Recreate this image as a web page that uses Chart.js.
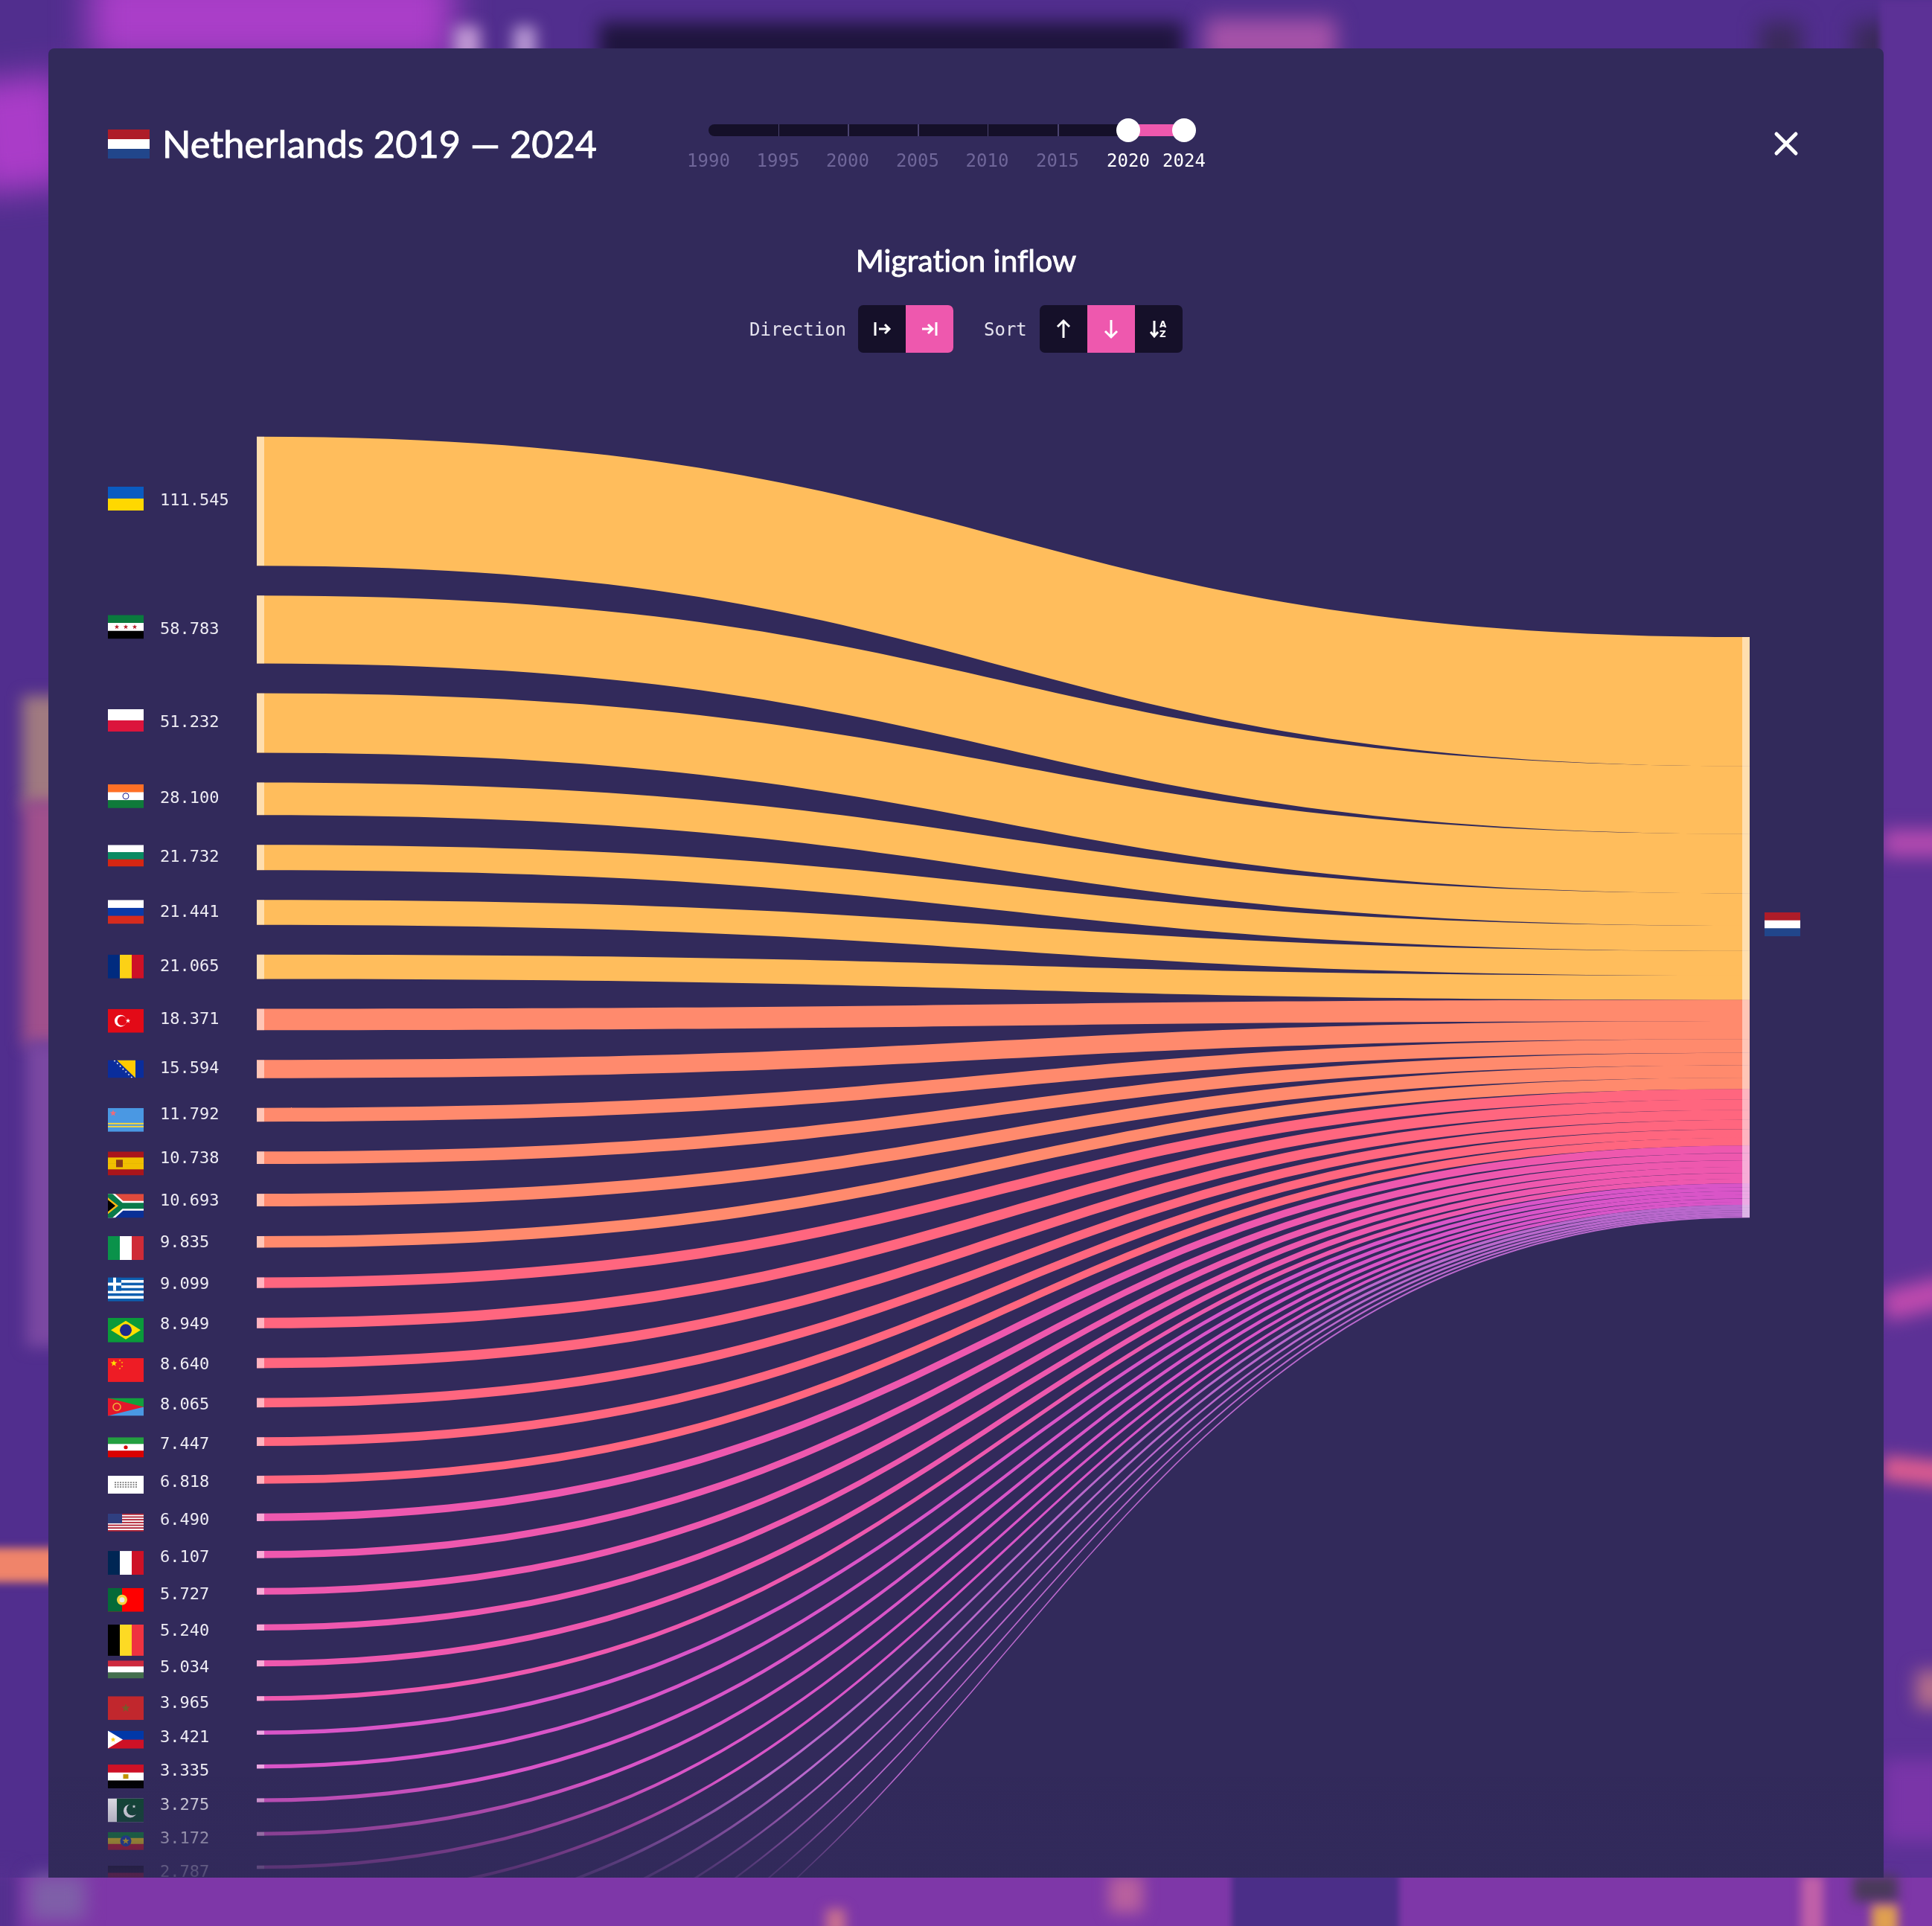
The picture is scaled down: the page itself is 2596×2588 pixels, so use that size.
<!DOCTYPE html>
<html>
<head>
<meta charset="utf-8">
<title>Netherlands 2019 — 2024</title>
<script src="https://cdn.jsdelivr.net/npm/chart.js@4"></script>
<style>
    html, body { margin: 0; padding: 0; width: 2596px; height: 2588px; overflow: hidden; background: #512e8e; }
    .blob { position: absolute; filter: blur(16px); }
    #card { position: absolute; left: 65px; top: 65px; width: 2466px; height: 2458px; background: #322a5b; border-radius: 8px 8px 0 0; }
    #chart { position: absolute; left: 0; top: 0; }
    .abs { position: absolute; white-space: nowrap; color: #fff; }
    .head { font-family: Lato, sans-serif; -webkit-text-stroke: 0.9px #fff; font-variant-ligatures: none; }
    .mono { font-family: "DejaVu Sans Mono", monospace; font-size: 24px; line-height: 28px; }
    .year { transform: translateX(-50%); color: #6f6699; }
    .year.on { color: #fff; }
    .group { position: absolute; top: 410px; height: 64px; display: flex; background: #151029; border-radius: 7px; overflow: hidden; }
    .group div { width: 64px; height: 64px; display: flex; align-items: center; justify-content: center; }
    .group .on { background: #ee58ae; }
    svg { display: block; }
</style>
</head>
<body>
<!-- blurred page behind the dialog -->
<div class="blob" style="left:120px;top:-40px;width:490px;height:125px;background:#aa3ec8;filter:blur(24px)"></div>
<div class="blob" style="left:-40px;top:105px;width:130px;height:150px;background:#aa3cc8;filter:blur(22px);transform:rotate(-6deg)"></div>
<div class="blob" style="left:610px;top:35px;width:35px;height:50px;background:#c098d4;filter:blur(10px)"></div>
<div class="blob" style="left:690px;top:35px;width:30px;height:50px;background:#b898d4;filter:blur(10px)"></div>
<div class="blob" style="left:805px;top:30px;width:785px;height:60px;background:#1f153e;filter:blur(12px)"></div>
<div class="blob" style="left:1620px;top:25px;width:175px;height:60px;background:#a552a8;filter:blur(14px)"></div>
<div class="blob" style="left:2365px;top:30px;width:55px;height:70px;background:#3a2a5a;filter:blur(14px)"></div>
<div class="blob" style="left:2490px;top:30px;width:70px;height:70px;background:#3a2a5a;filter:blur(14px)"></div>
<div class="blob" style="left:30px;top:935px;width:60px;height:150px;background:#a07a80;filter:blur(10px)"></div>
<div class="blob" style="left:30px;top:1075px;width:60px;height:330px;background:#a0508c;filter:blur(10px)"></div>
<div class="blob" style="left:35px;top:1400px;width:60px;height:410px;background:#7a48a2;filter:blur(10px)"></div>
<div class="blob" style="left:-20px;top:2080px;width:110px;height:46px;background:#f0846a;filter:blur(6px)"></div>
<div class="blob" style="left:2526px;top:0;width:80px;height:2600px;background:#5c3196;filter:blur(4px)"></div>
<div class="blob" style="left:2530px;top:1115px;width:90px;height:36px;background:#b44ab0;filter:blur(12px)"></div>
<div class="blob" style="left:2530px;top:1725px;width:90px;height:40px;background:#bf4aae;filter:blur(12px);transform:rotate(-14deg)"></div>
<div class="blob" style="left:2530px;top:1960px;width:90px;height:34px;background:#d85a90;filter:blur(10px);transform:rotate(6deg)"></div>
<div class="blob" style="left:2575px;top:2245px;width:40px;height:50px;background:#b8708a;filter:blur(12px)"></div>
<div class="blob" style="left:2530px;top:2365px;width:90px;height:110px;background:#7a35a8;filter:blur(12px)"></div>
<div class="blob" style="left:-40px;top:2523px;width:2680px;height:90px;background:#7e37a8;filter:none"></div>
<div class="blob" style="left:-20px;top:2510px;width:45px;height:100px;background:#54308f;filter:blur(10px)"></div>
<div class="blob" style="left:40px;top:2520px;width:75px;height:60px;background:#7f5fa8;filter:blur(12px)"></div>
<div class="blob" style="left:1655px;top:2515px;width:225px;height:90px;background:#4b2e88;filter:blur(4px)"></div>
<div class="blob" style="left:1110px;top:2565px;width:26px;height:40px;background:#c8708f;filter:blur(8px)"></div>
<div class="blob" style="left:1490px;top:2520px;width:46px;height:50px;background:#b8609e;filter:blur(10px)"></div>
<div class="blob" style="left:2420px;top:2520px;width:30px;height:80px;background:#c060a8;filter:blur(7px)"></div>
<div class="blob" style="left:2490px;top:2520px;width:60px;height:35px;background:#4a3a5a;filter:blur(8px)"></div>
<div class="blob" style="left:2515px;top:2560px;width:35px;height:40px;background:#e0a050;filter:blur(7px)"></div>

<div id="card"></div>
<canvas id="chart" width="2596" height="2588"></canvas>

<div class="abs head" style="left:218px;top:163px;font-size:50.5px;line-height:60px">Netherlands 2019 — 2024</div>
<div class="abs head" style="left:0;width:2596px;top:326px;text-align:center;font-size:41px;line-height:48px">Migration inflow</div>

<div class="abs" style="left:952px;top:167px;width:564px;height:16px;background:#151029;border-radius:8px 0 0 8px"></div>
<div class="abs" style="left:1516px;top:167px;width:75px;height:16px;background:#ee58ae"></div>
<div class="abs" style="left:1500px;top:159px;width:32px;height:32px;border-radius:50%;background:#fff"></div>
<div class="abs" style="left:1575px;top:159px;width:32px;height:32px;border-radius:50%;background:#fff"></div>
<div id="years"></div>

<div class="abs mono" style="left:1007px;top:429px;color:#e6e4ef">Direction</div>
<div class="group" style="left:1153px">
    <div><svg width="26" height="26" viewBox="0 0 26 26" fill="none" stroke="#fff" stroke-width="3"><path d="M4 4V22M9 13H23M17 7L23 13L17 19"/></svg></div>
    <div class="on"><svg width="26" height="26" viewBox="0 0 26 26" fill="none" stroke="#fff" stroke-width="3"><path d="M22 4V22M3 13H17M11 7L17 13L11 19"/></svg></div>
</div>
<div class="abs mono" style="left:1322px;top:429px;color:#e6e4ef">Sort</div>
<div class="group" style="left:1397px">
    <div><svg width="26" height="28" viewBox="0 0 26 28" fill="none" stroke="#fff" stroke-width="3"><path d="M13 26V3M5 11L13 3L21 11"/></svg></div>
    <div class="on"><svg width="26" height="28" viewBox="0 0 26 28" fill="none" stroke="#fff" stroke-width="3"><path d="M13 2V25M5 17L13 25L21 17"/></svg></div>
    <div><svg width="28" height="28" viewBox="0 0 28 28"><path d="M8 3V24M3 18L8 24L13 18" fill="none" stroke="#fff" stroke-width="3"/><text x="15" y="12" font-family="DejaVu Sans" font-weight="700" font-size="12" fill="#fff">A</text><text x="15" y="25" font-family="DejaVu Sans" font-weight="700" font-size="12" fill="#fff">Z</text></svg></div>
</div>

<svg class="abs" style="left:2383px;top:176px" width="34" height="34" viewBox="0 0 34 34" fill="none" stroke="#fff" stroke-width="5" stroke-linecap="round"><path d="M4 4L30 30M30 4L4 30"/></svg>
<canvas class="abs" id="titleFlag" width="56" height="39" style="left:145px;top:174px"></canvas>

<script>
// origin countries, largest inflow first (the last seven rows are cut off by the card)
const flagCodes = ['ua', 'sy', 'pl', 'in', 'bg', 'ru', 'ro', 'tr', 'ba', 'aw', 'es', 'za', 'it', 'gr', 'br', 'cn', 'er', 'ir', 'af',
    'us', 'fr', 'pt', 'be', 'hu', 'ma', 'ph', 'eg', 'pk', 'et', 'de', '', '', '', '', '', '', ''];
// inflow in thousands, Netherlands 2019-2024
const inflowValues = [111.545, 58.783, 51.232, 28.100, 21.732, 21.441, 21.065, 18.371, 15.594, 11.792, 10.738, 10.693, 9.835,
    9.099, 8.949, 8.640, 8.065, 7.447, 6.818, 6.490, 6.107, 5.727, 5.240, 5.034, 3.965, 3.421, 3.335, 3.275, 3.172, 2.787,
    2.612, 2.405, 2.198, 1.987, 1.763, 1.524, 1.311];
const yearTicks = [1990, 1995, 2000, 2005, 2010, 2015, 2020, 2024];
const activeYears = [2020, 2024];

const groupSizes = [7, 6, 6, 6, 6, 6];
const groupColors = ['#ffbd5c', '#ff8a6d', '#ff667f', '#ee58ae', '#d955c8', '#b968cc'];

// layout of the diagram, in pixels
const PX_PER_UNIT = 1.553;
const ROW_GAP = 40.2 / PX_PER_UNIT;
const RIGHT_START = (856.2 - 586.8) / PX_PER_UNIT;
const PLOT = { left: 345, right: 2351, top: 586.8, bottom: 2523 };
const NODE_W = 10;
const LABEL_LEFT = 215;

// years under the slider
const yearX = [952, 1045.5, 1139, 1233, 1326.5, 1421, 1516, 1591];
const yearsEl = document.getElementById('years');
yearTicks.forEach((y, i) => {
    const el = document.createElement('div');
    el.className = 'abs mono year' + (activeYears.includes(y) ? ' on' : '');
    el.style.left = yearX[i] + 'px';
    el.style.top = '202px';
    el.textContent = y;
    yearsEl.appendChild(el);
    if (i > 0 && i < 6) {
        const sep = document.createElement('div');
        sep.className = 'abs';
        sep.style.cssText = `left:${yearX[i]}px;top:167px;width:1.5px;height:16px;background:#4b4370`;
        yearsEl.appendChild(sep);
    }
});

// stacked positions of every row on both sides
let leftCursor = 0, rightCursor = RIGHT_START;
const rows = inflowValues.map((v, i) => {
    const row = { value: v, code: flagCodes[i], leftTop: leftCursor, rightTop: rightCursor };
    leftCursor += v + ROW_GAP;
    rightCursor += v;
    return row;
});
const colorOf = i => {
    let end = 0;
    for (let g = 0; g < groupSizes.length; g++) {
        end += groupSizes[g];
        if (i < end) return groupColors[g];
    }
    return groupColors[groupColors.length - 1];
};

// flags
function stripes(ctx, colors, x, y, w, h, vertical) {
    colors.forEach((c, i) => {
        ctx.fillStyle = c;
        if (vertical) ctx.fillRect(x + w * i / colors.length, y, w / colors.length + .5, h);
        else ctx.fillRect(x, y + h * i / colors.length, w, h / colors.length + .5);
    });
}
function star(ctx, cx, cy, r, color) {
    ctx.fillStyle = color;
    ctx.beginPath();
    for (let i = 0; i < 10; i++) {
        const a = -Math.PI / 2 + i * Math.PI / 5, rr = i % 2 ? r * .42 : r;
        ctx.lineTo(cx + Math.cos(a) * rr, cy + Math.sin(a) * rr);
    }
    ctx.fill();
}
function poly(ctx, color, pts) {
    ctx.fillStyle = color;
    ctx.beginPath();
    pts.forEach(p => ctx.lineTo(p[0], p[1]));
    ctx.fill();
}
function disc(ctx, color, x, y, r) {
    ctx.fillStyle = color;
    ctx.beginPath();
    ctx.arc(x, y, r, 0, Math.PI * 2);
    ctx.fill();
}
const flagHeights = { ua: 32, sy: 32, pl: 30, in: 32, bg: 29, ru: 32, ro: 32, tr: 32, ba: 24, aw: 32, es: 32, za: 32, it: 32, gr: 32,
    br: 33, cn: 32, er: 24, ir: 27, af: 24, us: 24, fr: 32, pt: 32, be: 42, hu: 24, ma: 32, ph: 24, eg: 32, pk: 32, et: 24, de: 29, nl: 32 };
function drawFlag(ctx, code, x, y, w, h) {
    ctx.save();
    ctx.beginPath();
    ctx.rect(x, y, w, h);
    ctx.clip();
    const cx = x + w / 2, cy = y + h / 2;
    switch (code) {
        case 'ua': stripes(ctx, ['#0a5bc0', '#ffd800'], x, y, w, h); break;
        case 'sy':
            stripes(ctx, ['#0a7a3e', '#ffffff', '#000000'], x, y, w, h);
            [-12, 0, 12].forEach(d => star(ctx, cx + d, cy, 3.4, '#b5202c'));
            break;
        case 'pl': stripes(ctx, ['#ffffff', '#dc143c'], x, y, w, h); break;
        case 'in':
            stripes(ctx, ['#ff7026', '#ffffff', '#0f7a3a'], x, y, w, h);
            ctx.strokeStyle = '#1b1b8f'; ctx.lineWidth = 1;
            ctx.beginPath(); ctx.arc(cx, cy, 4, 0, Math.PI * 2); ctx.stroke();
            break;
        case 'bg': stripes(ctx, ['#ffffff', '#0a8a62', '#d62612'], x, y, w, h); break;
        case 'ru': stripes(ctx, ['#ffffff', '#0a3aa8', '#d52b1e'], x, y, w, h); break;
        case 'ro': stripes(ctx, ['#002b7f', '#fcd116', '#ce1126'], x, y, w, h, true); break;
        case 'tr':
            ctx.fillStyle = '#e30a17'; ctx.fillRect(x, y, w, h);
            disc(ctx, '#fff', x + 17, cy, 8);
            disc(ctx, '#e30a17', x + 19, cy, 6.4);
            star(ctx, x + 27, cy, 3.4, '#fff');
            break;
        case 'ba':
            ctx.fillStyle = '#0a2d9c'; ctx.fillRect(x, y, w, h);
            poly(ctx, '#fecb00', [[x + 12, y], [x + 37, y], [x + 37, y + h]]);
            for (let i = 0; i < 7; i++) star(ctx, x + 9 + i * 3.8, y + 1 + i * 3.7, 1.5, '#fff');
            break;
        case 'aw':
            ctx.fillStyle = '#4a98e3'; ctx.fillRect(x, y, w, h);
            ctx.fillStyle = '#f5d63d'; ctx.fillRect(x, y + 20, w, 2); ctx.fillRect(x, y + 24, w, 2);
            star(ctx, x + 7, y + 7, 4.5, '#ef6a78');
            break;
        case 'es':
            stripes(ctx, ['#aa151b', '#f1bf00', '#f1bf00', '#aa151b'], x, y, w, h);
            ctx.fillStyle = '#8a3a1a'; ctx.fillRect(x + 11, cy - 5, 9, 10);
            break;
        case 'za':
            stripes(ctx, ['#e04a3c', '#0a2f96'], x, y, w, h);
            ctx.strokeStyle = '#fff'; ctx.lineWidth = 13;
            ctx.beginPath(); ctx.moveTo(x - 2, y - 2); ctx.lineTo(x + 18, cy); ctx.lineTo(x + 48, cy); ctx.moveTo(x + 18, cy); ctx.lineTo(x - 2, y + h + 2); ctx.stroke();
            ctx.strokeStyle = '#0a7a4a'; ctx.lineWidth = 8;
            ctx.beginPath(); ctx.moveTo(x - 2, y - 2); ctx.lineTo(x + 18, cy); ctx.lineTo(x + 48, cy); ctx.moveTo(x + 18, cy); ctx.lineTo(x - 2, y + h + 2); ctx.stroke();
            poly(ctx, '#fdb913', [[x, y + 5], [x + 14, cy], [x, y + h - 5]]);
            poly(ctx, '#000', [[x, y + 8], [x + 10, cy], [x, y + h - 8]]);
            break;
        case 'it': stripes(ctx, ['#0a924a', '#ffffff', '#cf2b37'], x, y, w, h, true); break;
        case 'gr':
            stripes(ctx, ['#0d5eaf', '#fff', '#0d5eaf', '#fff', '#0d5eaf', '#fff', '#0d5eaf', '#fff', '#0d5eaf'], x, y, w, h);
            ctx.fillStyle = '#0d5eaf'; ctx.fillRect(x, y, 18, 18);
            ctx.fillStyle = '#fff'; ctx.fillRect(x + 7, y, 4, 18); ctx.fillRect(x, y + 7, 18, 4);
            break;
        case 'br':
            ctx.fillStyle = '#0a9a3a'; ctx.fillRect(x, y, w, h);
            poly(ctx, '#fedf00', [[x + 4, cy], [cx, y + 4], [x + 44, cy], [cx, y + h - 4]]);
            disc(ctx, '#1e2a8a', cx, cy, 8);
            break;
        case 'cn':
            ctx.fillStyle = '#ee1c25'; ctx.fillRect(x, y, w, h);
            star(ctx, x + 8, y + 7, 4.6, '#ffde00');
            [[16, 3], [19, 6], [19, 11], [16, 14]].forEach(p => star(ctx, x + p[0], y + p[1], 1.5, '#ffde00'));
            break;
        case 'er':
            ctx.fillStyle = '#12a03c'; ctx.fillRect(x, y, w, h / 2);
            ctx.fillStyle = '#4a98e3'; ctx.fillRect(x, cy, w, h / 2);
            poly(ctx, '#e4172b', [[x, y], [x + w, cy], [x, y + h]]);
            ctx.strokeStyle = '#f2b33d'; ctx.lineWidth = 1.5;
            ctx.beginPath(); ctx.arc(x + 12, cy, 5, 0, Math.PI * 2); ctx.stroke();
            break;
        case 'ir':
            stripes(ctx, ['#239f40', '#ffffff', '#da0000'], x, y, w, h);
            disc(ctx, '#da0000', cx, cy, 2.6);
            break;
        case 'af':
            ctx.fillStyle = '#fff'; ctx.fillRect(x, y, w, h);
            ctx.strokeStyle = '#222'; ctx.lineWidth = 1;
            ctx.setLineDash([2, 1.5]);
            [-3, 0, 3].forEach(d => {
                ctx.beginPath(); ctx.moveTo(x + 9, cy + d); ctx.lineTo(x + 39, cy + d); ctx.stroke();
            });
            ctx.setLineDash([]);
            break;
        case 'us':
            stripes(ctx, ['#b22234', '#fff', '#b22234', '#fff', '#b22234', '#fff', '#b22234', '#fff', '#b22234', '#fff', '#b22234', '#fff', '#b22234'], x, y, w, h);
            ctx.fillStyle = '#2f3f80'; ctx.fillRect(x, y, 19, 13);
            break;
        case 'fr': stripes(ctx, ['#002654', '#ffffff', '#ce1126'], x, y, w, h, true); break;
        case 'pt':
            ctx.fillStyle = '#ff0000'; ctx.fillRect(x, y, w, h);
            ctx.fillStyle = '#046a38'; ctx.fillRect(x, y, 19, h);
            disc(ctx, '#f5d63d', x + 19, cy, 7);
            disc(ctx, '#e8e8e8', x + 19, cy, 3.5);
            break;
        case 'be': stripes(ctx, ['#000000', '#fdda24', '#ef3340'], x, y, w, h, true); break;
        case 'hu': stripes(ctx, ['#cd2a3e', '#ffffff', '#436f4d'], x, y, w, h); break;
        case 'ma':
            ctx.fillStyle = '#c1272d'; ctx.fillRect(x, y, w, h);
            star(ctx, cx, cy, 6, '#7a5a2a');
            break;
        case 'ph':
            stripes(ctx, ['#0038a8', '#ce1126'], x, y, w, h);
            poly(ctx, '#fff', [[x, y], [x + 20, cy], [x, y + h]]);
            star(ctx, x + 7, cy, 3.6, '#fcd116');
            break;
        case 'eg':
            stripes(ctx, ['#ce1126', '#ffffff', '#000000'], x, y, w, h);
            ctx.fillStyle = '#c09300'; ctx.fillRect(cx - 3.5, cy - 3, 7, 6);
            break;
        case 'pk':
            ctx.fillStyle = '#fff'; ctx.fillRect(x, y, w, h);
            ctx.fillStyle = '#0c4a2e'; ctx.fillRect(x + 12, y, 36, h);
            disc(ctx, '#fff', x + 30, cy + 1, 9);
            disc(ctx, '#0c4a2e', x + 33, cy - 1, 8);
            star(ctx, x + 35, cy - 5, 2.6, '#fff');
            break;
        case 'et':
            stripes(ctx, ['#078930', '#fcdd09', '#da121a'], x, y, w, h);
            disc(ctx, '#0f47af', cx, cy, 7.5);
            star(ctx, cx, cy, 5, '#fcdd09');
            break;
        case 'de': stripes(ctx, ['#000000', '#dd0000', '#ffce00'], x, y, w, h); break;
        case 'nl': stripes(ctx, ['#ae1c28', '#ffffff', '#21468b'], x, y, w, h); break;
    }
    ctx.restore();
}
drawFlag(document.getElementById('titleFlag').getContext('2d'), 'nl', 0, 0, 56, 39);

// draws the flow bands and end nodes from the scales of the chart
const sankeyBands = {
    id: 'sankeyBands',
    beforeDatasetsDraw(chart) {
        const { ctx, chartArea: area, scales: { x, y } } = chart;
        const px = v => y.getPixelForValue(v) - y.getPixelForValue(0);
        ctx.save();
        ctx.beginPath();
        ctx.rect(0, area.top - 1, chart.width, area.bottom - area.top + 1);
        ctx.clip();
        chart.data.datasets.forEach((ds, i) => {
            const pts = chart.getDatasetMeta(i).data;
            const x0 = pts[0].x, x1 = pts[1].x, xm = (x0 + x1) / 2;
            // same height along the whole band, a touch extra so neighbours close up at the right
            const half = px(ds.bandValue) / 2 + 0.1;
            ctx.beginPath();
            ctx.moveTo(x0, pts[0].y - half);
            ctx.bezierCurveTo(xm, pts[0].y - half, xm, pts[1].y - half, x1, pts[1].y - half);
            ctx.lineTo(x1, pts[1].y + half);
            ctx.bezierCurveTo(xm, pts[1].y + half, xm, pts[0].y + half, x0, pts[0].y + half);
            ctx.closePath();
            ctx.fillStyle = ds.bandColor;
            ctx.fill();
        });
        // lighter end caps
        const capL = x.getPixelForValue(0), capR = x.getPixelForValue(1);
        ctx.fillStyle = 'rgba(255,255,255,0.5)';
        rows.forEach(r => {
            ctx.fillRect(capL, y.getPixelForValue(r.leftTop), NODE_W, px(r.value));
        });
        const rightTop = Math.round(y.getPixelForValue(RIGHT_START));
        const rightBottom = Math.round(y.getPixelForValue(rightCursor));
        ctx.fillRect(capR - NODE_W, rightTop, NODE_W, rightBottom - rightTop);
        // flags in front of each row
        rows.forEach(r => {
            if (!r.code) return;
            const top = y.getPixelForValue(r.leftTop), h = px(r.value), fh = flagHeights[r.code];
            const fy = Math.max(top, top + h / 2 - fh / 2 - 3.5);
            if (fy < area.bottom) drawFlag(ctx, r.code, 145, fy, 48, fh);
        });
        const mid = (rightTop + rightBottom) / 2;
        drawFlag(ctx, 'nl', 2371, mid - 20, 48, 32);
        ctx.restore();
    },
    afterDraw(chart) {
        // rows fade out toward the bottom of the card
        const { ctx, chartArea: area } = chart;
        const g = ctx.createLinearGradient(0, area.bottom - 135, 0, area.bottom);
        g.addColorStop(0, 'rgba(50,42,91,0)');
        g.addColorStop(1, 'rgba(50,42,91,0.85)');
        ctx.fillStyle = g;
        ctx.fillRect(65, area.bottom - 135, 2466, 135);
    }
};

const labelTicks = rows.map(r => {
    const h = r.value * PX_PER_UNIT;
    const top = r.leftTop * PX_PER_UNIT;
    return { value: Math.max(top + 9.6, top + h / 2) / PX_PER_UNIT, label: r.value.toFixed(3) };
});

new Chart(document.getElementById('chart'), {
    type: 'scatter',
    data: {
        datasets: rows.map((r, i) => ({
            label: r.code,
            bandValue: r.value,
            bandColor: colorOf(i),
            showLine: false,
            pointRadius: 0,
            data: [{ x: 0, y: r.leftTop + r.value / 2 }, { x: 1, y: r.rightTop + r.value / 2 }]
        }))
    },
    options: {
        responsive: false,
        devicePixelRatio: 1,
        animation: false,
        events: [],
        layout: { padding: { left: LABEL_LEFT, right: 2596 - PLOT.right, top: PLOT.top, bottom: 2588 - PLOT.bottom } },
        plugins: { legend: { display: false }, tooltip: { enabled: false }, title: { display: false } },
        scales: {
            x: { type: 'linear', display: false, min: 0, max: 1 },
            y: {
                type: 'linear',
                reverse: true,
                min: 0,
                max: (PLOT.bottom - PLOT.top) / PX_PER_UNIT,
                grid: { display: false },
                border: { display: false },
                afterFit(scale) { scale.width = PLOT.left - LABEL_LEFT; },
                afterBuildTicks(scale) {
                    scale.ticks = labelTicks.filter(t => t.value < scale.max).map(t => ({ value: t.value, label: t.label }));
                },
                ticks: {
                    autoSkip: false,
                    crossAlign: 'far',
                    color: '#eeecf4',
                    font: { family: '"DejaVu Sans Mono", monospace', size: 22 },
                    callback(value, index, ticks) { return ticks[index].label; }
                }
            }
        }
    },
    plugins: [sankeyBands]
});
</script>
</body>
</html>
